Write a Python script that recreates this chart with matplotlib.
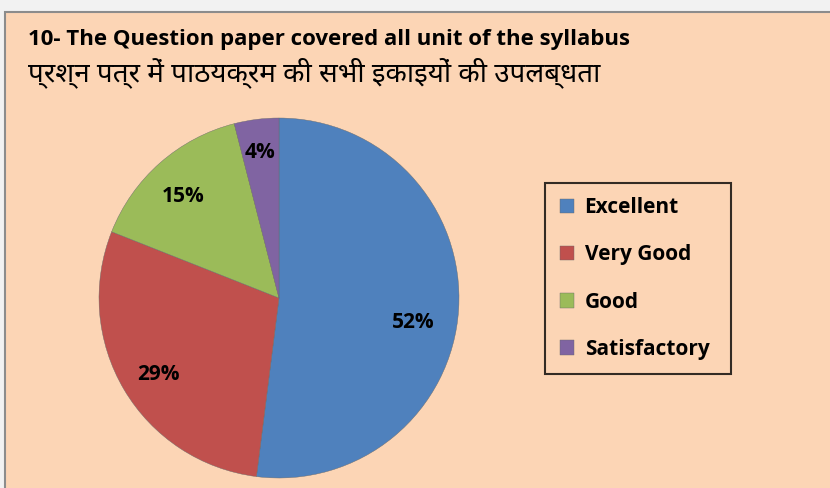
import matplotlib.pyplot as plt
from matplotlib.patches import Rectangle

labels = ["Excellent", "Very Good", "Good", "Satisfactory"]
shares = [52, 29, 15, 4]
colors = ["#4F81BD", "#C0504D", "#9BBB59", "#8064A2"]

title_en = "10- The Question paper covered all unit of the syllabus"
title_hi = "प्रश्न पत्र में पाठयक्रम की सभी इकाइयों की उपलब्धता"

W, H = 830, 488
fig = plt.figure(figsize=(W / 100, H / 100), dpi=100)
fig.patch.set_facecolor("#F2F2F2")

# peach chart area with grey edge
fig.patches.append(Rectangle((5 / W, -0.01), 1, (H - 12) / H + 0.01, transform=fig.transFigure,
                             facecolor="#FCD5B5", edgecolor="#8C8C8C", lw=1.5, zorder=-5))

fig.text(28 / W, 1 - 40 / H, title_en, fontsize=16, fontweight="bold",
         family=["Open Sans", "DejaVu Sans"], va="center")
fig.text(28 / W, 1 - 73 / H, title_hi, fontsize=20, fontweight="bold",
         family=["Noto Sans", "DejaVu Sans"], va="center")

# pie axes: centre (279, 297), radius 180 px
cx, cy, r = 279, 298, 180
ax = fig.add_axes([(cx - r) / W, 1 - (cy + r) / H, 2 * r / W, 2 * r / H])
wedges, texts = ax.pie(shares, colors=colors, startangle=90, counterclock=False,
                       wedgeprops=dict(edgecolor="#6a6a6a", linewidth=0.3))
ax.set_aspect("auto")
ax.set_xlim(-1, 1)
ax.set_ylim(-1, 1)
ax.axis("off")

label_pos = [(413, 322), (158, 375), (183, 196), (260, 152)]
for s, (x, y) in zip(shares, label_pos):
    fig.text(x / W, 1 - y / H, f"{s}%", fontsize=15, fontweight="bold",
             family="Open Sans", ha="center", va="center")

leg = fig.legend(wedges, labels, loc="center",
                 bbox_to_anchor=(545 / W, 1 - 374 / H, 186 / W, 191 / H),
                 mode="expand", frameon=True, fancybox=False,
                 prop=dict(family="Open Sans", weight="bold", size=15),
                 labelspacing=1.25, handlelength=0.7, handleheight=0.7,
                 handletextpad=0.5, borderpad=0.7, borderaxespad=0)
leg.get_frame().set_edgecolor("black")
leg.get_frame().set_linewidth(1.5)
leg.get_frame().set_facecolor("#FCD5B5")

fig.savefig("out.png", dpi=100, facecolor=fig.get_facecolor())
